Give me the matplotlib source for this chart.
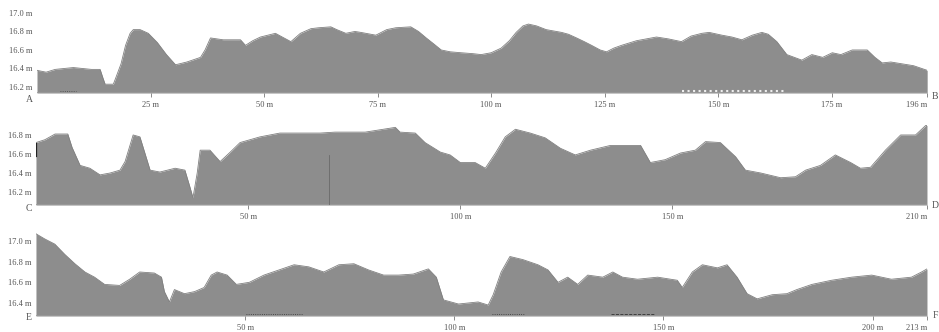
import matplotlib
matplotlib.use("Agg")
import matplotlib.pyplot as plt

plt.rcParams['font.family'] = ['Liberation Serif', 'DejaVu Serif']

# profil A - B (distance m, hauteur m)
dist_ab = [0, 2, 4, 6, 8, 10, 12, 13.9, 14.5, 15.0, 16.8, 17.2, 18.5, 19.5, 20.5, 21.2,
           22.7, 24.5, 26.5, 28.5, 30.5, 33, 36, 37, 38.2, 41, 44.8, 45.9, 47.5, 49.2,
           52.5, 54, 55.9, 58, 60.3, 62, 64.7, 66, 68, 70, 71.3, 74.6, 77, 79, 82.3, 84,
           85.7, 87.5, 89, 91, 93.4, 96, 97.8, 100, 102.2, 104, 105.5, 107, 108.2, 110,
           112.1, 115.5, 117, 118.8, 120.5, 122.1, 124, 125.4, 127, 128.7, 132, 136.4,
           139, 141.9, 144, 146.4, 148, 150.8, 153, 155.2, 157.5, 159.6, 161, 162.9,
           165.1, 168.4, 170.6, 173, 175.1, 177, 179.5, 181, 182.8, 184.5, 186.1, 188,
           190.5, 193, 196]
elev_ab = [16.38, 16.36, 16.39, 16.40, 16.41, 16.40, 16.39, 16.39, 16.30, 16.23, 16.23,
           16.28, 16.45, 16.65, 16.78, 16.82, 16.82, 16.78, 16.68, 16.55, 16.44, 16.47,
           16.52, 16.60, 16.73, 16.71, 16.71, 16.65, 16.70, 16.74, 16.78, 16.74, 16.69,
           16.78, 16.83, 16.84, 16.85, 16.82, 16.78, 16.80, 16.79, 16.76, 16.82, 16.84,
           16.85, 16.80, 16.73, 16.66, 16.60, 16.58, 16.57, 16.56, 16.55, 16.57, 16.62,
           16.70, 16.79, 16.86, 16.88, 16.86, 16.82, 16.79, 16.77, 16.73, 16.69, 16.65,
           16.60, 16.58, 16.62, 16.65, 16.70, 16.74, 16.72, 16.69, 16.75, 16.78, 16.79,
           16.76, 16.74, 16.71, 16.76, 16.79, 16.77, 16.69, 16.55, 16.49, 16.55, 16.52,
           16.57, 16.55, 16.60, 16.60, 16.60, 16.52, 16.46, 16.47, 16.45, 16.43, 16.38]
yticks_ab = [16.2, 16.4, 16.6, 16.8, 17.0]
xticks_ab = [25, 50, 75, 100, 125, 150, 175, 196]
xlabels_ab = ['25 m', '50 m', '75 m', '100 m', '125 m', '150 m', '175 m', '196 m']

# profil C - D
dist_cd = [0, 2.1, 4.5, 7.5, 8.5, 10.4, 12.7, 15.1, 17.5, 19.8, 21.0, 22.9, 24.5, 26.9,
           29.2, 32.8, 35.1, 36.3, 37.0, 38.0, 38.7, 41.0, 43.4, 45.8, 48.1, 52.8, 57.5,
           62.3, 67.0, 70.5, 77.6, 84.7, 85.8, 89.4, 91.7, 95.3, 97.6, 100.0, 103.5,
           105.9, 108.3, 110.6, 113.0, 116.5, 120.0, 123.6, 127.1, 130.7, 135.4, 137.7,
           142.5, 144.8, 148.3, 151.9, 155.4, 157.8, 161.3, 164.9, 167.2, 170.8, 175.5,
           179.0, 181.4, 184.9, 188.4, 192.0, 194.3, 196.7, 200.2, 203.8, 207.3, 209.7,
           210]
elev_cd = [16.72, 16.75, 16.81, 16.81, 16.67, 16.48, 16.45, 16.38, 16.40, 16.43, 16.52,
           16.80, 16.78, 16.43, 16.41, 16.45, 16.43, 16.25, 16.14, 16.40, 16.64, 16.64,
           16.52, 16.62, 16.72, 16.78, 16.82, 16.82, 16.82, 16.83, 16.83, 16.88, 16.83,
           16.82, 16.72, 16.62, 16.59, 16.51, 16.51, 16.45, 16.61, 16.78, 16.86, 16.82,
           16.77, 16.66, 16.59, 16.64, 16.69, 16.69, 16.69, 16.51, 16.54, 16.61, 16.64,
           16.73, 16.72, 16.57, 16.43, 16.40, 16.35, 16.36, 16.43, 16.48, 16.59, 16.51,
           16.45, 16.46, 16.64, 16.80, 16.80, 16.90, 16.90]
yticks_cd = [16.2, 16.4, 16.6, 16.8]
xticks_cd = [50, 100, 150, 210]
xlabels_cd = ['50 m', '100 m', '150 m', '210 m']

# profil E - F
dist_ef = [0, 2.1, 4.5, 6.9, 9.3, 11.7, 14.0, 16.4, 20.0, 22.4, 24.8, 28.3, 30.0, 30.7,
           31.9, 33.1, 35.5, 37.9, 40.2, 41.9, 43.3, 45.7, 47.9, 51.0, 54.5, 58.1, 61.7,
           65.2, 68.8, 72.4, 76.0, 79.5, 83.1, 86.7, 90.2, 93.8, 95.7, 97.4, 101.0, 105.7,
           108.1, 109.3, 111.2, 113.3, 116.4, 120.0, 122.4, 124.8, 127.1, 129.5, 131.9,
           135.5, 137.9, 140.2, 143.8, 148.6, 153.3, 154.5, 156.9, 159.3, 162.9, 165.2,
           167.6, 170.0, 172.4, 176.0, 179.5, 181.9, 185.5, 190.2, 195.0, 199.8, 204.5,
           209.3, 211.7, 213]
elev_ef = [17.07, 17.02, 16.97, 16.87, 16.78, 16.70, 16.65, 16.58, 16.57, 16.63, 16.70,
           16.69, 16.65, 16.51, 16.41, 16.53, 16.49, 16.51, 16.55, 16.67, 16.70, 16.67,
           16.58, 16.60, 16.67, 16.72, 16.77, 16.75, 16.70, 16.77, 16.78, 16.72, 16.67,
           16.67, 16.68, 16.73, 16.65, 16.43, 16.39, 16.41, 16.38, 16.48, 16.70, 16.85,
           16.82, 16.77, 16.72, 16.60, 16.65, 16.58, 16.67, 16.65, 16.70, 16.65, 16.63,
           16.65, 16.62, 16.55, 16.70, 16.77, 16.74, 16.77, 16.65, 16.49, 16.44, 16.48,
           16.49, 16.53, 16.58, 16.62, 16.65, 16.67, 16.63, 16.65, 16.70, 16.73]
yticks_ef = [16.4, 16.6, 16.8, 17.0]
xticks_ef = [50, 100, 150, 200, 213]
xlabels_ef = ['50 m', '100 m', '150 m', '200 m', '213 m']

fill_col = '#8d8d8d'
text_col = '#555555'


def draw_profile(rect, dist, elev, ylim, yticks, xticks, xlabels, letters, letter_y):
    ax = fig.add_axes(rect)
    ax.fill_between(dist, ylim[0], elev, color=fill_col, lw=0)
    ax.plot(dist, elev, color='#808080', lw=0.6)
    ax.axhline(ylim[0], color='#9a9a9a', lw=1.2)
    ax.set_xlim(0, dist[-1])
    ax.set_ylim(*ylim)
    for s in ax.spines.values():
        s.set_visible(False)
    ax.set_yticks(yticks)
    ax.set_yticklabels(['%.1f m' % v for v in yticks])
    ax.set_xticks(xticks)
    ax.set_xticklabels(xlabels)
    ax.tick_params(axis='y', length=0, pad=3, labelsize=6, labelcolor=text_col)
    ax.tick_params(axis='x', length=3, width=0.6, color='#777777', pad=3,
                   labelsize=6, labelcolor=text_col)
    ax.get_xticklabels()[-1].set_horizontalalignment('right')
    ax.text(-0.008, letter_y, letters[0], transform=ax.transAxes, ha='center',
            va='center', fontsize=7, color=text_col)
    ax.text(1.009, letter_y + 0.03, letters[1], transform=ax.transAxes, ha='center',
            va='center', fontsize=7, color=text_col)
    ax.patch.set_alpha(0)
    return ax


fig = plt.figure(figsize=(9.39, 3.32), dpi=100)

ax1 = draw_profile([0.0394, 0.7199, 0.948, 0.2801], dist_ab, elev_ab, (16.135, 17.14),
                   yticks_ab, xticks_ab, xlabels_ab, ('A', 'B'), -0.07)
ax1.plot([5, 8.5], [16.16, 16.16], color='#444444', lw=0.6, ls=':')
ax1.plot([142, 165], [16.155, 16.155], color='#eeeeee', lw=1.5, ls=':')

ax2 = draw_profile([0.0383, 0.3825, 0.9489, 0.2711], dist_cd, elev_cd, (16.063, 17.01),
                   yticks_cd, xticks_cd, xlabels_cd, ('C', 'D'), -0.04)
ax2.plot([0.1, 0.1], [16.58, 16.72], color='#222222', lw=0.9)
ax2.plot([69.1, 69.1], [16.063, 16.59], color='#6a6a6a', lw=0.6)

ax3 = draw_profile([0.0383, 0.0482, 0.9489, 0.2741], dist_ef, elev_ef, (16.274, 17.155),
                   yticks_ef, xticks_ef, xlabels_ef, ('E', 'F'), -0.02)
ax3.plot([50.2, 63.6], [16.29, 16.29], color='#333333', lw=0.6, ls=':')
ax3.plot([109, 117], [16.29, 16.29], color='#333333', lw=0.6, ls=':')
ax3.plot([137.4, 148], [16.29, 16.29], color='#333333', lw=0.6, ls='--')

fig.savefig('out.png', dpi=100, facecolor='white')
